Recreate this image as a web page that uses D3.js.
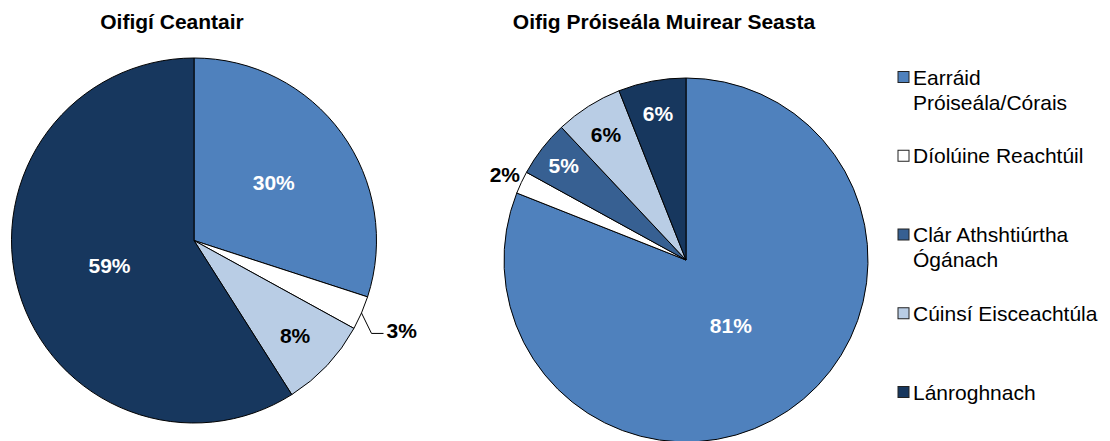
<!DOCTYPE html>
<html>
<head>
<meta charset="utf-8">
<script src="https://cdn.jsdelivr.net/npm/d3@7"></script>
<style>
  body { margin: 0; background: #fff; }
  svg { display: block; font-family: "Liberation Sans", Arial, sans-serif; }
</style>
</head>
<body>
<div id="chart"></div>
<script>
// categories (legend order) and their fills
const categories = ["Earráid Próiseála/Córais", "Díolúine Reachtúil", "Clár Athshtiúrtha Ógánach", "Cúinsí Eisceachtúla", "Lánroghnach"];
const colors = ["#4F81BD", "#FFFFFF", "#376092", "#B9CDE5", "#17375E"];

// share (%) per category, same order as categories
const ceantairValues = [30, 3, 0, 8, 59];
const proiseailValues = [81, 2, 5, 6, 6];

const chartTitles = ["Oifigí Ceantair", "Oifig Próiseála Muirear Seasta"];

const width = 1110, height = 441;

const svg = d3.select("#chart").append("svg")
    .attr("width", width)
    .attr("height", height);

const color = d3.scaleOrdinal().domain(categories).range(colors);

const pies = [
    {title: chartTitles[0], values: ceantairValues, cx: 194, cy: 240.5, r: 182.5},
    {title: chartTitles[1], values: proiseailValues, cx: 686, cy: 260, r: 182}
];

const pie = d3.pie().sort(null).value(d => d.value);

pies.forEach(p => {
    const data = categories.map((c, i) => ({label: c, value: p.values[i]}));
    const total = d3.sum(data, d => d.value);
    const arcs = pie(data).filter(d => d.value > 0);
    const arc = d3.arc().innerRadius(0).outerRadius(p.r);

    const g = svg.append("g").attr("transform", `translate(${p.cx},${p.cy})`);

    svg.append("text")
        .attr("x", p.cx - 22)
        .attr("y", 29)
        .attr("text-anchor", "middle")
        .attr("font-size", 21)
        .attr("font-weight", "bold")
        .attr("fill", "#000")
        .text(p.title);

    g.selectAll("path")
        .data(arcs)
        .join("path")
        .attr("d", arc)
        .attr("fill", d => color(d.data.label))
        .attr("stroke", "#000")
        .attr("stroke-width", 1)
        .attr("stroke-linejoin", "round");

    // data labels: inside for normal slices, outside for very thin ones
    arcs.forEach(d => {
        const v = d.value / total;
        const mid = (d.startAngle + d.endAngle) / 2;
        const sx = Math.sin(mid), sy = -Math.cos(mid);
        const outside = v < 0.04;
        let f;
        if (outside) f = sx > 0 ? 1.24 : 1.1;
        else if (v < 0.1) f = 1 - 3 * v;
        else f = 0.6 - 0.2 * v;
        const lx = sx * p.r * f, ly = sy * p.r * f;
        const light = d3.hsl(color(d.data.label)).l > 0.6;

        const t = g.append("text")
            .attr("x", lx)
            .attr("y", ly)
            .attr("dy", "0.36em")
            .attr("text-anchor", "middle")
            .attr("font-size", 21)
            .attr("font-weight", "bold")
            .attr("fill", outside || light ? "#000" : "#fff")
            .text(Math.round(d.value / total * 100) + "%");

        if (outside) {
            const bb = t.node().getBBox();
            const ex = sx * p.r, ey = sy * p.r;
            const gap = sx > 0 ? bb.x - ex : ex - (bb.x + bb.width);
            if (gap > 8) {
                const ty = bb.y + bb.height / 2 + 3;
                const tx = sx > 0 ? bb.x - 3 : bb.x + bb.width + 3;
                const kx = sx > 0 ? tx - 12 : tx + 12;
                g.append("polyline")
                    .attr("points", [[ex, ey], [kx, ty], [tx, ty]].map(q => q.join(",")).join(" "))
                    .attr("fill", "none")
                    .attr("stroke", "#000")
                    .attr("stroke-width", 1);
            }
        }
    });
});

// legend
const legendY = d3.scalePoint().domain(categories).range([77, 392]);
const legendX = 898, box = 11, textX = 913, maxW = width - textX - 4;

const items = svg.append("g")
    .selectAll("g")
    .data(categories)
    .join("g")
    .attr("transform", d => `translate(0,${legendY(d)})`);

items.append("rect")
    .attr("x", legendX)
    .attr("y", -box / 2)
    .attr("width", box)
    .attr("height", box)
    .attr("fill", d => color(d))
    .attr("stroke", "#222")
    .attr("stroke-width", 1);

items.each(function (d) {
    const t = d3.select(this).append("text")
        .attr("x", textX)
        .attr("y", 0)
        .attr("font-size", 21)
        .attr("fill", "#000");
    // wrap words onto lines that fit in the space to the right
    const words = d.split(" ");
    let line = [];
    let span = t.append("tspan").attr("x", textX).attr("dy", "0.36em");
    words.forEach(w => {
        line.push(w);
        span.text(line.join(" "));
        if (span.node().getComputedTextLength() > maxW && line.length > 1) {
            line.pop();
            span.text(line.join(" "));
            line = [w];
            span = t.append("tspan").attr("x", textX).attr("dy", "1.2em").text(w);
        }
    });
});
</script>
</body>
</html>
